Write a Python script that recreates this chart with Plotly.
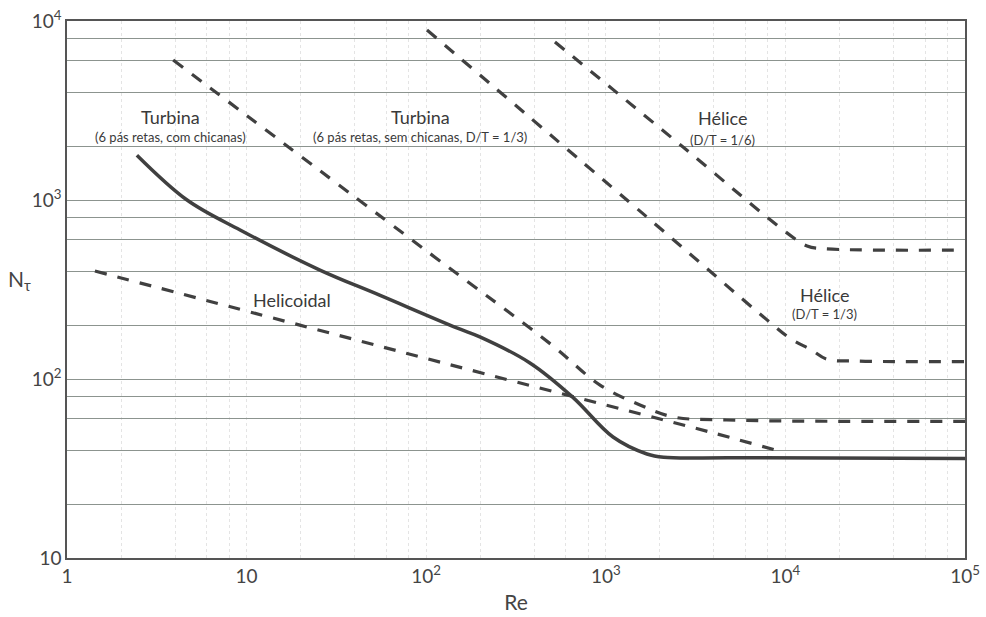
import plotly.graph_objects as go

# ---- data ----
turb_com_x = [2.45, 4.66, 9.2, 25.6, 55, 148, 199, 378, 656, 1097, 1695, 2100, 5000, 100000]
turb_com_y = [1780, 1000, 680, 406, 294, 193, 172, 123, 79, 47.4, 38.1, 36.5, 36.3, 36]

helicoidal_x = [1.43, 19.8, 227, 3954, 9700]
helicoidal_y = [401, 200, 105, 50, 39]

turb_sem_x = [3.9, 100, 500, 929, 1550, 2370, 4700, 100000]
turb_sem_y = [6050, 521, 155, 92.5, 71.6, 61.4, 59, 58]

helice13_x = [101, 1695, 7900, 10600, 14000, 17000, 25000, 100000]
helice13_y = [8900, 803, 214, 169, 145, 129, 126, 125]

helice16_x = [521, 2692, 10200, 13200, 16000, 100000]
helice16_y = [7640, 1976, 655, 553, 535, 525]

x_tickvals = [1, 10, 100, 1000, 10000, 100000]
x_ticktext = ["1", "10", "10<sup>2</sup>", "10<sup>3</sup>", "10<sup>4</sup>", "10<sup>5</sup>"]
y_decades = [10, 100, 1000, 10000]
y_decade_text = ["10", "10<sup>2</sup>", "10<sup>3</sup>", "10<sup>4</sup>"]
y_grid_mult = [2, 4, 6, 8]
x_grid_mult = [2, 4, 6, 8]

FONT = "Lato, Roboto, sans-serif"
LINE = "#404040"

fig = go.Figure()

def add(x, y, dash, width):
    fig.add_trace(go.Scatter(x=x, y=y, mode="lines", line_shape="spline",
                             line=dict(color=LINE, width=width, dash=dash),
                             showlegend=False, hoverinfo="skip"))

add(turb_com_x, turb_com_y, "solid", 3.5)
add(helicoidal_x, helicoidal_y, "12px,11px", 3.2)
add(turb_sem_x, turb_sem_y, "12px,11px", 3.2)
add(helice13_x, helice13_y, "12px,11px", 3.2)
add(helice16_x, helice16_y, "12px,11px", 3.2)

# y gridlines: decades + 2,4,6,8 multiples
y_vals, y_text = [], []
for d, t in zip(y_decades, y_decade_text):
    y_vals.append(d); y_text.append(t)
    if d < 10000:
        for m in y_grid_mult:
            y_vals.append(d * m); y_text.append("")

x_minor = []
for d in x_tickvals[:-1]:
    for m in x_grid_mult:
        x_minor.append(d * m)
x_minor += x_tickvals[1:-1]

fig.update_xaxes(type="log", range=[0, 5], tickvals=x_tickvals, ticktext=x_ticktext,
                 showgrid=False, showline=True, linecolor="#555", linewidth=1.5, mirror=True,
                 ticks="", tickfont=dict(family=FONT, size=19, color="#444"),
                 minor=dict(tickvals=x_minor, showgrid=True, gridcolor="#e4e4e4",
                            griddash="dot", gridwidth=1, ticks=""),
                 title=dict(text="Re", font=dict(family=FONT, size=21, color="#444"), standoff=10),
                 zeroline=False, automargin=False)
fig.update_yaxes(type="log", range=[1, 4], tickvals=y_vals, ticktext=y_text,
                 showgrid=True, gridcolor="#8c948f", gridwidth=1,
                 showline=True, linecolor="#555", linewidth=1.5, mirror=True,
                 ticks="", tickfont=dict(family=FONT, size=19, color="#444"),
                 zeroline=False, automargin=False)

def label(xl, yl, text, size):
    fig.add_annotation(x=xl, y=yl, xref="x", yref="y", text=text, showarrow=False,
                       font=dict(family=FONT, size=size, color="#3a3a3a"))

label(0.5735, 3.464, "Turbina", 18)
label(0.5735, 3.352, "(6 pás retas, com chicanas)", 13)
label(1.9655, 3.464, "Turbina", 18)
label(1.9655, 3.352, "(6 pás retas, sem chicanas, D/T = 1/3)", 13)
label(3.647, 3.458, "Hélice", 18)
label(3.647, 3.335, "(D/T = 1/6)", 13)
label(4.220, 2.469, "Hélice", 18)
label(4.220, 2.363, "(D/T = 1/3)", 13)
label(1.253, 2.441, "Helicoidal", 18)

# N_tau in the left margin
fig.add_annotation(x=-0.053, y=(558 - 280) / (558 - 21), xref="paper", yref="paper",
                   text="N<sub>τ</sub>", showarrow=False, xanchor="center",
                   font=dict(family=FONT, size=21, color="#444"))

fig.update_layout(width=986, height=617, margin=dict(l=67, r=21, t=21, b=59),
                  paper_bgcolor="white", plot_bgcolor="white")

fig.write_html("out.html")
